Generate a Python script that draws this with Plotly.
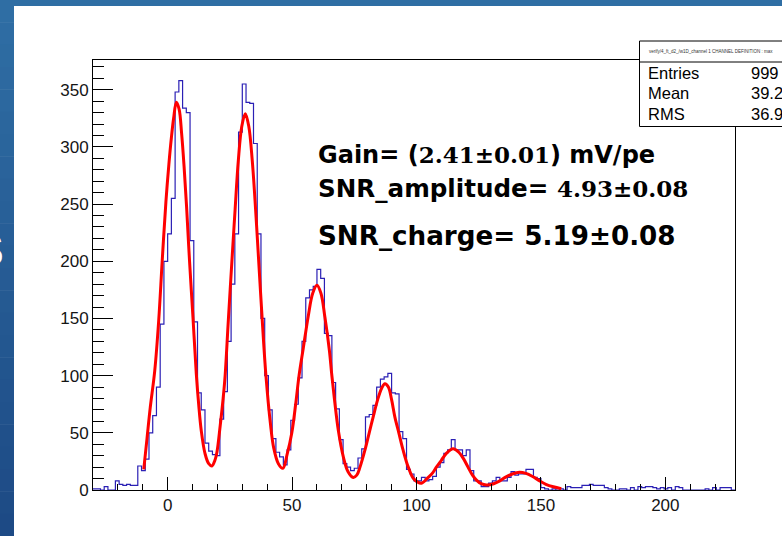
import plotly.graph_objects as go

# ---------------- data ----------------
bin_start = -30.0
bin_width = 1.5
counts = [
    1, 1, 0, 3, 0, 0, 8, 5, 4, 5, 4, 4,            # -30 .. -12
    21, 17, 27, 50, 65, 90, 145, 200,              # -12 .. 0
    224, 255, 348, 358, 334, 330, 218, 147,        # 0 .. 12
    85, 70, 41, 34, 31, 30, 62, 86,                # 12 .. 24
    130, 180, 224, 313, 355, 339, 338, 303,        # 24 .. 36
    224, 150, 100, 70, 45, 33, 29, 22,             # 36 .. 48
    35, 61, 75, 98, 130, 168, 175, 178,            # 48 .. 60
    193, 185, 137, 135, 94, 71, 44, 23,            # 60 .. 72
    20, 17, 19, 28, 36, 64, 66, 74,                # 72 .. 84
    90, 97, 99, 102, 85, 84, 51, 45,               # 84 .. 96
    18, 14, 8, 8, 11, 8, 9, 12,                    # 96 .. 108
    20, 24, 32, 35, 44, 35, 35, 30,                # 108 .. 120
    35, 17, 8, 8, 3, 3, 6, 8,                      # 120 .. 132
    11, 8, 8, 11, 16, 13, 14, 14,                  # 132 .. 144
    18, 18, 11, 10, 2, 1, 0, 1,                    # 144 .. 156
    0, 1, 0, 3, 2, 2, 2, 4,                        # 156 .. 168
    4, 5, 4, 4, 4, 2, 1, 0,                        # 168 .. 180
    0, 1, 1, 0, 2, 0, 3, 2,                        # 180 .. 192
    3, 3, 2, 1, 2, 1, 2, 0,                        # 192 .. 204
    3, 2, 0, 0, 0, 0, 0, 0,                        # 204 .. 216
    1, 0, 2, 0, 2, 2, 2, 0,                        # 216 .. 228
]

fit_x = [-9.6, -8.3, -7.0, -5.2, -3.6, -2.2, -0.7, 0.5, 1.5, 2.4, 3.5, 4.6, 5.6, 6.6,
         7.6, 8.8, 10.2, 11.5, 12.5, 13.5, 15.0, 16.5, 17.8, 19.0, 19.8, 21.1, 22.3,
         23.1, 24.4, 26.1, 27.1, 28.4, 29.8, 31.2, 32.6, 34.0, 35.35, 36.4, 38.0, 39.5,
         41.3, 42.6, 44.5, 46.3, 48.1, 49.9, 51.5, 52.8, 54.5, 56.5, 58.3, 60.0, 61.6,
         63.2, 65.0, 65.9, 67.0, 68.6, 70.6, 72.5, 74.6, 76.0, 77.3, 79.3, 81.0, 82.6,
         84.4, 86.0, 87.3, 88.7, 90.0, 91.3, 92.9, 94.6, 96.7, 99.0, 102.0, 104.7,
         106.5, 108.0, 110.0, 112.0, 114.7, 117.0, 119.0, 120.7, 122.5, 124.1, 126.0,
         128.1, 131.0, 133.5, 136.0, 138.5, 141.4, 144.0, 146.5, 149.5, 152.0, 155.0,
         158.2]
fit_y = [18, 45, 72, 104, 148, 200, 252, 285, 308, 325, 339, 333, 312, 283,
         248, 200, 150, 102, 74, 52, 32, 23, 21, 26, 33, 56, 80,
         100, 149, 210, 245, 288, 318, 329, 318, 288, 245, 207, 149, 100,
         58, 37, 23, 19, 32, 50, 76, 100, 124, 152, 172, 179, 172,
         151, 122, 102, 80, 52, 29, 16, 11, 13, 20, 35, 50, 64,
         79, 89, 93, 90, 79, 64, 50, 35, 20, 9.5, 6, 11,
         15, 20, 26, 32, 36, 33, 27, 20, 13, 8.7, 5.5,
         4.4, 5.5, 8, 11.5, 14, 15.5, 14.5, 12, 8, 5, 2.8,
         1.2]

x_tickvals = [0, 50, 100, 150, 200]
y_tickvals = [0, 50, 100, 150, 200, 250, 300, 350]

stats_labels = ["Entries", "Mean", "RMS"]
stats_values = ["999", "39.2", "36.9"]
stats_title = "verify/4_ft_d2_/w1D_channel 1 CHANNEL DEFINITION : max"

# ---------------- geometry ----------------
W, H = 782, 536
L, R, T, B = 93, 735, 60, 490
XR = [-30, 228]
YR = [0, 376]


def px(x):
    return (x - L) / (R - L)


def py(y):
    return (B - y) / (B - T)


edges = [bin_start + bin_width * i for i in range(len(counts) + 1)]
hist_y = counts + [counts[-1]]

fig = go.Figure()
fig.add_trace(go.Scatter(x=edges, y=hist_y, mode="lines", line=dict(shape="hv", color="#2b20b5", width=1.2),
                         hoverinfo="skip"))
fig.add_trace(go.Scatter(x=fit_x, y=fit_y, mode="lines", line=dict(shape="spline", color="#ff0000", width=3),
                         hoverinfo="skip"))

shapes = []
# slide background: blue gradient strip on the left, thin band on top
n = 24
c0 = (47, 110, 164)
c1 = (29, 74, 133)
for i in range(n):
    t = i / (n - 1)
    col = "rgb(%d,%d,%d)" % tuple(round(c0[k] + (c1[k] - c0[k]) * t) for k in range(3))
    y0 = H * i / n
    y1 = H * (i + 1) / n + 0.5
    shapes.append(dict(type="rect", xref="paper", yref="paper", x0=px(0), x1=px(14), y0=py(y1), y1=py(y0),
                       fillcolor=col, line=dict(width=0), layer="below"))
shapes.append(dict(type="rect", xref="paper", yref="paper", x0=px(0), x1=px(W + 5), y0=py(6), y1=py(0),
                   fillcolor="rgb(47,110,164)", line=dict(width=0), layer="below"))
# stats box
shapes.append(dict(type="rect", xref="paper", yref="paper", x0=px(639.5), x1=px(800), y0=py(126.5), y1=py(41),
                   fillcolor="white", line=dict(color="black", width=1), layer="above"))
shapes.append(dict(type="line", xref="paper", yref="paper", x0=px(639.5), x1=px(800), y0=py(62), y1=py(62),
                   line=dict(color="black", width=1), layer="above"))

annotations = []
sans = "DejaVu Sans"
serif = "DejaVu Serif"
annotations.append(dict(xref="paper", yref="paper", x=px(316), y=py(154.8), xanchor="left", yanchor="middle",
                        showarrow=False,
                        text="<b>Gain= (</b><span style='font-family:%s;font-size:23px'><b>2.41±0.01</b></span>"
                             "<b>) mV/pe</b>" % serif,
                        font=dict(family=sans, size=24, color="black")))
annotations.append(dict(xref="paper", yref="paper", x=px(316), y=py(188.2), xanchor="left", yanchor="middle",
                        showarrow=False,
                        text="<b>SNR_amplitude= </b><span style='font-family:%s;font-size:23px'><b>4.93±0.08</b></span>"
                             % serif,
                        font=dict(family=sans, size=24.6, color="black")))
annotations.append(dict(xref="paper", yref="paper", x=px(316), y=py(235.8), xanchor="left", yanchor="middle",
                        showarrow=False, text="<b>SNR_charge= 5.19±0.08</b>",
                        font=dict(family=sans, size=26.2, color="black")))
# stats box texts
annotations.append(dict(xref="paper", yref="paper", x=px(647), y=py(51.5), xanchor="left", yanchor="middle",
                        showarrow=False, text=stats_title, font=dict(family="Liberation Sans", size=4.5, color="#333")))
for i, (lab, val) in enumerate(zip(stats_labels, stats_values)):
    yc = 72.5 + 20.5 * i
    annotations.append(dict(xref="paper", yref="paper", x=px(646), y=py(yc), xanchor="left", yanchor="middle",
                            showarrow=False, text=lab, font=dict(family="Liberation Sans", size=16.5, color="black")))
    annotations.append(dict(xref="paper", yref="paper", x=px(749), y=py(yc), xanchor="left", yanchor="middle",
                            showarrow=False, text=val, font=dict(family="Liberation Sans", size=16.5, color="black")))
# fragment of slide text at the left edge
annotations.append(dict(xref="paper", yref="paper", x=px(6), y=py(250), xanchor="right", yanchor="middle",
                        showarrow=False, text="<b>S</b>", font=dict(family="Liberation Sans", size=46, color="white")))

tickfont = dict(family="Liberation Sans, Arial, sans-serif", size=17, color="#151515")
fig.update_layout(
    width=W, height=H,
    margin=dict(l=L, r=W - R, t=T, b=H - B, pad=0),
    paper_bgcolor="white", plot_bgcolor="white",
    showlegend=False,
    shapes=shapes,
    annotations=annotations,
    xaxis=dict(range=XR, tickmode="array", tickvals=x_tickvals, ticktext=[str(v) for v in x_tickvals],
               ticks="inside", ticklen=13, tickwidth=1, tickcolor="black",
               minor=dict(tickmode="linear", tick0=0, dtick=10, ticks="inside", ticklen=6, tickwidth=1,
                          tickcolor="black", showgrid=False),
               showline=True, linecolor="black", linewidth=1, mirror=True,
               showgrid=False, zeroline=False, tickfont=tickfont),
    yaxis=dict(range=YR, tickmode="array", tickvals=y_tickvals, ticktext=[str(v) for v in y_tickvals],
               ticks="inside", ticklen=20, tickwidth=1, tickcolor="black",
               minor=dict(tickmode="linear", tick0=0, dtick=10, ticks="inside", ticklen=11, tickwidth=1,
                          tickcolor="black", showgrid=False),
               showline=True, linecolor="black", linewidth=1, mirror=True,
               showgrid=False, zeroline=False, tickfont=tickfont),
)

fig.write_html("out.html")
